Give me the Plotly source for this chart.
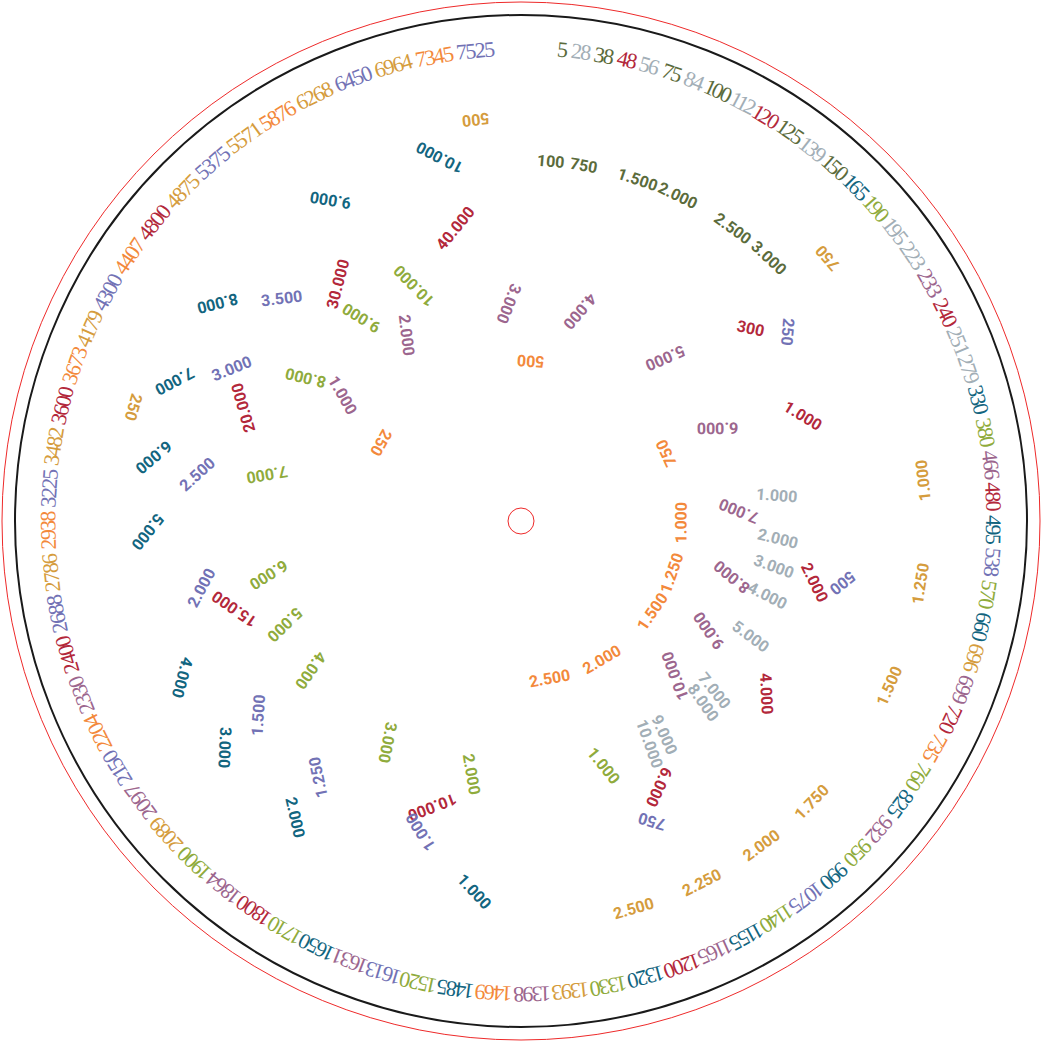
import numpy as np
import plotly.graph_objects as go

# ---------------- DATA ----------------
# Outer ring values, grouped by series
olive_outer = [5, 38, 75, 100, 125, 150]
gray_outer = [28, 56, 84, 112, 139, 195, 223, 251, 279]
red_outer = [48, 120, 240, 480, 720, 1200, 1800, 2400, 3600, 4800]
teal_outer = [165, 330, 495, 660, 825, 990, 1155, 1320, 1485, 1650]
green_outer = [190, 380, 570, 760, 950, 1140, 1330, 1520, 1710, 1900]
mauve_outer = [233, 466, 699, 932, 1165, 1398, 1631, 1864, 2097, 2330]
blue_outer = [538, 1075, 1613, 2150, 2688, 3225, 4300, 5375, 6450, 7525]
orange_outer = [735, 1469, 2204, 2938, 3673, 4407, 5876, 7345]
gold_outer = [696, 1393, 2089, 2786, 3482, 4179, 4875, 5571, 6268, 6964]

# Inner scales: tick labels and their angle (degrees clockwise from top)
olive_labels = ["100", "750", "1.500", "2.000", "2.500", "3.000"]
olive_theta = [4.7, 10.0, 18.8, 25.7, 35.9, 43.2]

gold_labels = ["250", "500", "750", "1.000", "1.250", "1.500", "1.750", "2.000", "2.250", "2.500"]
gold_theta = [286.3, 353.5, 49.3, 84.2, 99.0, 114.1, 134.1, 143.5, 153.4, 163.8]

teal_labels = ["1.000", "2.000", "3.000", "4.000", "5.000", "6.000", "7.000", "8.000", "9.000", "10.000"]
teal_theta = [187.2, 217.3, 232.6, 245.3, 268.4, 279.9, 292.0, 305.7, 329.3, 347.4]

red_labels = ["300", "1.000", "2.000", "4.000", "6.000", "10.000", "15.000", "20.000", "30.000", "40.000"]
red_theta = [50.0, 69.5, 101.8, 125.1, 152.5, 197.3, 252.9, 292.1, 322.4, 347.3]

blue_labels = ["250", "500", "750", "1.000", "1.250", "1.500", "2.000", "2.500", "3.000", "3.500"]
blue_theta = [54.6, 100.9, 156.5, 197.9, 218.4, 233.6, 258.1, 278.1, 297.8, 312.9]

green_labels = ["1.000", "2.000", "3.000", "4.000", "5.000", "6.000", "7.000", "8.000", "9.000", "10.000"]
green_theta = [161.4, 191.0, 211.0, 234.6, 246.2, 258.0, 280.5, 303.6, 321.8, 335.5]

gray_labels = ["1.000", "2.000", "3.000", "4.000", "5.000", "7.000", "8.000", "9.000", "10.000"]
gray_theta = [84.4, 94.0, 100.3, 106.8, 116.7, 131.2, 134.8, 146.1, 150.1]

mauve_labels = ["1.000", "2.000", "3.000", "4.000", "5.000", "6.000", "7.000", "8.000", "9.000", "10.000"]
mauve_theta = [305.2, 328.4, 356.9, 15.8, 41.5, 64.7, 87.3, 104.8, 120.4, 135.1]

orange_labels = ["250", "500", "750", "1.000", "1.250", "1.500", "2.000", "2.500"]
orange_theta = [299.1, 3.5, 64.9, 90.5, 109.3, 124.6, 149.7, 169.9]

# ---------------- STYLE ----------------
COL = {
    "olive": "#5b6b3b", "gray": "#a2aeb6", "red": "#b3283b", "teal": "#12657f",
    "green": "#8fab3c", "mauve": "#9c668e", "blue": "#7272b5", "orange": "#f3893b",
    "gold": "#d59c3d",
}
# ring radius (px) and label rotation offset relative to the angle
RING = {
    "olive": (361, 0), "gold": (404, 180), "teal": (373, -140), "red": (300, -38),
    "blue": (327, 40), "green": (258, -110), "gray": (257, -80), "mauve": (218, 115),
    "orange": (160, 180),
}
OUTER_FONT = "Liberation Serif, serif"
INNER_FONT = "Roboto, Liberation Sans, sans-serif"

outer_groups = {
    "olive": olive_outer, "gray": gray_outer, "red": red_outer, "teal": teal_outer,
    "green": green_outer, "mauve": mauve_outer, "blue": blue_outer,
    "orange": orange_outer, "gold": gold_outer,
}
inner_groups = {
    "olive": (olive_labels, olive_theta), "gold": (gold_labels, gold_theta),
    "teal": (teal_labels, teal_theta), "red": (red_labels, red_theta),
    "blue": (blue_labels, blue_theta), "green": (green_labels, green_theta),
    "gray": (gray_labels, gray_theta), "mauve": (mauve_labels, mauve_theta),
    "orange": (orange_labels, orange_theta),
}


def norm_angle(a):
    return ((a + 180.0) % 360.0) - 180.0


def polar_xy(r, theta_deg):
    t = np.radians(theta_deg)
    return r * np.sin(t), r * np.cos(t)


def condensed(txt):
    # tighten glyph spacing, slightly narrower advance for the digit one
    out = []
    for ch in txt:
        ls = -2.9 if ch == "1" else -1.7
        out.append('<span style="letter-spacing:%.1fpx">%s</span>' % (ls, ch))
    return "".join(out)


annotations = []

# ----- outer ring: text packed along the circle -----
outer = sorted((v, s) for s, vals in outer_groups.items() for v in vals)
texts = [str(v) for v, _ in outer]
widths = np.array([sum(0.6 if ch == "1" else 1.0 for ch in t) for t in texts])
gap = 0.5
starts = np.concatenate([[0.0], np.cumsum(widths + gap)[:-1]])
centers = starts + widths / 2
a0, a1 = 5.0, 354.5
angles = a0 + (centers - centers[0]) * (a1 - a0) / (centers[-1] - centers[0])
R_OUT = 473
for (v, s), ang in zip(outer, angles):
    x, y = polar_xy(R_OUT, ang)
    annotations.append(dict(
        x=x, y=y, xref="x", yref="y", text=condensed(str(v)),
        showarrow=False, textangle=norm_angle(ang), xanchor="center", yanchor="middle",
        font=dict(family=OUTER_FONT, size=22, color=COL[s]),
    ))

# ----- inner scales -----
for s, (labels, thetas) in inner_groups.items():
    r, off = RING[s]
    for lab, th in zip(labels, thetas):
        x, y = polar_xy(r, th)
        annotations.append(dict(
            x=x, y=y, xref="x", yref="y", text="<b>" + lab + "</b>", showarrow=False,
            textangle=norm_angle(th + off), xanchor="center", yanchor="middle",
            font=dict(family=INNER_FONT, size=16, color=COL[s]),
        ))

shapes = [
    dict(type="circle", xref="x", yref="y", x0=-519, y0=-519, x1=519, y1=519,
         line=dict(color="#ee2a2a", width=1)),
    dict(type="circle", xref="x", yref="y", x0=-506, y0=-506, x1=506, y1=506,
         line=dict(color="#1a1a1a", width=2)),
    dict(type="circle", xref="x", yref="y", x0=-13, y0=-13, x1=13, y1=13,
         line=dict(color="#ee2a2a", width=1)),
]

fig = go.Figure()
fig.add_trace(go.Scatter(x=[0], y=[0], mode="markers", marker=dict(size=1, opacity=0),
                         hoverinfo="skip", showlegend=False))
fig.update_layout(
    width=1041, height=1043, margin=dict(l=0, r=0, t=0, b=0),
    paper_bgcolor="white", plot_bgcolor="white", showlegend=False,
    xaxis=dict(range=[-521, 520], visible=False, fixedrange=True),
    yaxis=dict(range=[-522, 521], visible=False, fixedrange=True),
    annotations=annotations, shapes=shapes,
)
fig.write_html(
    "out.html",
    config={"displayModeBar": False},
    post_script="document.body.style.margin='0';document.body.style.padding='0';"
                "document.documentElement.style.overflow='hidden';",
)
